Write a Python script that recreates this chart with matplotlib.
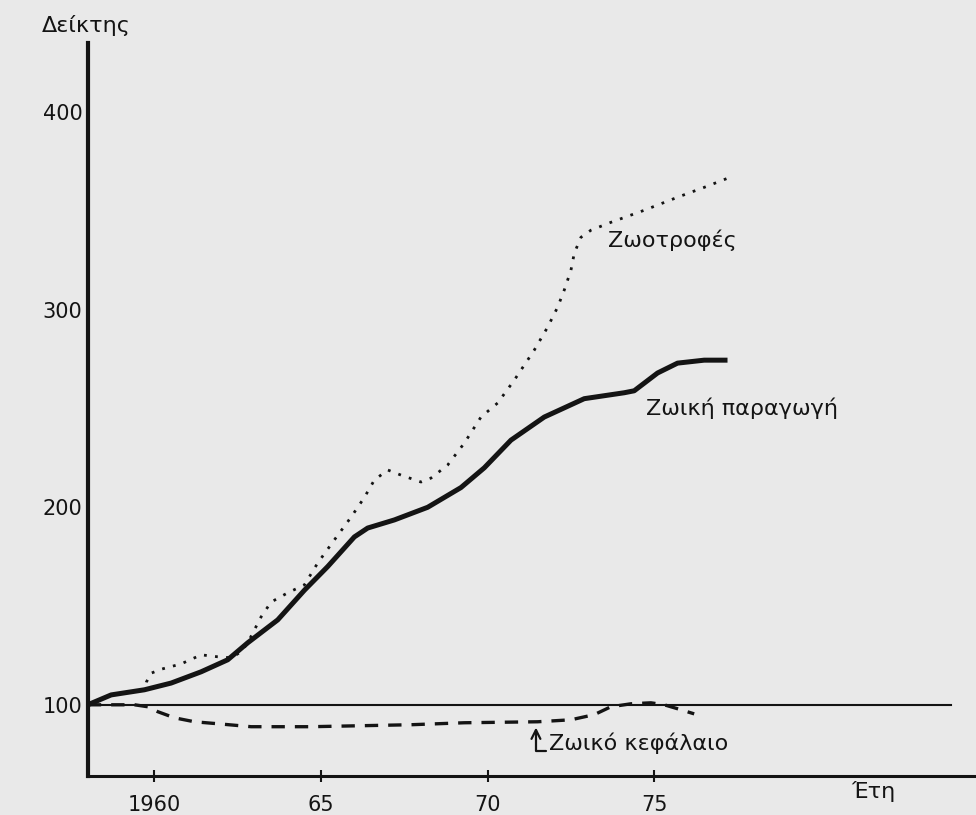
import matplotlib.pyplot as plt

# Ζωική παραγωγή (solid)
years_prod = [1958.0, 1958.7, 1959.7, 1960.5, 1961.4, 1962.2, 1962.8, 1963.7, 1964.5,
              1965.2, 1966.0, 1966.4, 1967.2, 1968.2, 1969.2, 1969.9, 1970.7, 1971.7,
              1972.9, 1974.1, 1974.4, 1975.1, 1975.7, 1976.5, 1977.2]
prod = [100, 105, 107.6, 111, 116.7, 122.8, 131.4, 143, 158,
        170, 185, 189.5, 193.6, 200, 210, 220, 234, 245.7,
        255, 258, 259, 268, 273, 274.5, 274.5]

# Ζωοτροφές (dotted)
years_feed = [1958.0, 1958.7, 1959.7, 1959.76, 1959.9, 1960.2, 1960.8, 1961.4, 1961.9,
              1962.3, 1962.6, 1962.8, 1963.2, 1963.5, 1964.0, 1964.5, 1964.9, 1965.4,
              1965.9, 1966.3, 1966.6, 1967.0, 1967.4, 1968.0, 1968.3, 1968.8, 1969.3,
              1969.8, 1970.3, 1970.8, 1971.4, 1971.8, 1972.1, 1972.3, 1972.5, 1972.6,
              1972.8, 1973.1, 1973.7, 1974.7, 1975.7, 1976.5, 1977.2]
feed = [100, 105, 107.6, 111.6, 116, 118, 120.7, 125.3, 124.3,
        123.8, 126.8, 131.4, 144.5, 152, 156.7, 160.7, 171.8, 183.5,
        195, 205, 213.8, 218.9, 216.3, 212.8, 214.8, 221.4, 232.5,
        245.7, 252.8, 264.4, 279.6, 291.2, 301.3, 310, 320, 328.6,
        336.7, 340.3, 344.3, 350.4, 357, 362, 366.6]

# Ζωικό κεφάλαιο (dashed)
years_stock = [1958.0, 1958.8, 1959.4, 1959.8, 1960.1, 1960.6, 1961.2, 1961.9, 1962.9,
               1964.7, 1966.2, 1967.7, 1969.3, 1971.5, 1972.5, 1973.2, 1973.7, 1974.3,
               1974.9, 1975.3, 1975.7, 1976.2]
stock = [100, 100, 100, 99, 96.5, 93.4, 91.4, 90.4, 88.9,
         88.9, 89.4, 89.9, 90.9, 91.4, 92.4, 95, 99, 100.5,
         101, 100, 98, 95.4]

base_years = [1958.0, 1983.9]
base_vals = [100, 100]

xticks = [1960, 1965, 1970, 1975]
xtick_labels = ['1960', '65', '70', '75']
yticks = [100, 200, 300, 400]

ink = '#141414'
paper = '#e9e9e9'

fig = plt.figure(figsize=(9.76, 8.15), dpi=100)
fig.patch.set_facecolor(paper)
ax = fig.add_axes([0.090, 0.048, 0.908, 0.899])
ax.set_facecolor(paper)

ax.plot(base_years, base_vals, color=ink, lw=1.5)
ax.plot(years_prod, prod, color=ink, lw=3.6, solid_capstyle='butt', solid_joinstyle='round')
ax.plot(years_feed, feed, color=ink, lw=2.0, linestyle=(0, (1, 3)))
ax.plot(years_stock, stock, color=ink, lw=2.4, linestyle=(0, (4, 3)))

ax.set_xlim(1958.0, 1984.6)
ax.set_ylim(64, 435)

for s in ['top', 'right']:
    ax.spines[s].set_visible(False)
ax.spines['left'].set_linewidth(3.0)
ax.spines['bottom'].set_linewidth(2.2)
ax.spines['left'].set_color(ink)
ax.spines['bottom'].set_color(ink)

ax.set_xticks(xticks)
ax.set_xticklabels(xtick_labels, fontsize=15)
ax.set_yticks(yticks)
ax.set_yticklabels([str(v) for v in yticks], fontsize=15)
ax.tick_params(axis='x', direction='inout', length=8, width=1.5, pad=10, colors=ink)
ax.tick_params(axis='y', length=0, pad=4, colors=ink)

ax.text(1973.6, 335, 'Ζωοτροφές', fontsize=16, color=ink, va='center', ha='left')
ax.text(1974.75, 250, 'Ζωική παραγωγή', fontsize=16, color=ink, va='center', ha='left')
ax.annotate('Ζωικό κεφάλαιο', xy=(1971.45, 88.5), xytext=(1971.85, 80.5),
            fontsize=16, color=ink, va='center', ha='left',
            arrowprops=dict(arrowstyle='->', color=ink, lw=1.6,
                            connectionstyle='angle,angleA=0,angleB=90,rad=0',
                            relpos=(0, 0.12), shrinkA=0, shrinkB=0))

fig.text(42 / 976, 1 - 25 / 815, 'Δείκτης', fontsize=16, color=ink, va='center', ha='left')
fig.text(873 / 976, 1 - 792 / 815, 'Έτη', fontsize=16, color=ink, va='center', ha='center')

fig.savefig('out.png', dpi=100, facecolor=paper)
